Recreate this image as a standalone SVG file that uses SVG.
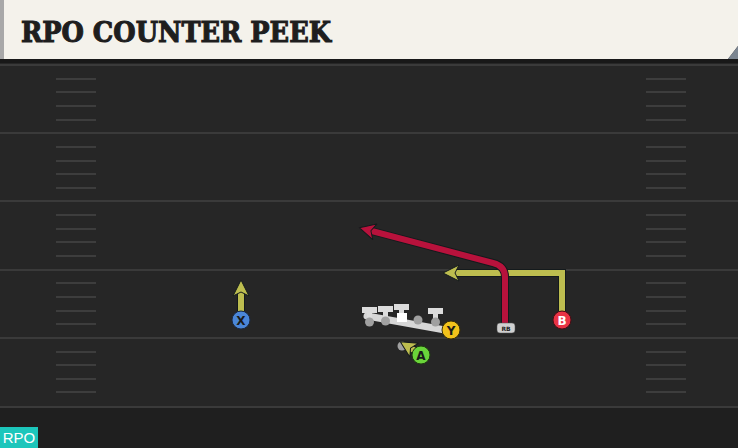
<svg xmlns="http://www.w3.org/2000/svg" width="738" height="448" viewBox="0 0 738 448">
<style>
.yl{stroke:#3a3a3a;stroke-width:2}
.hm{stroke:#3d3d3d;stroke-width:2}
.rt{fill:none;stroke-width:6;stroke-linejoin:miter;stroke-linecap:butt}
.rto{fill:none;stroke:#141a1c;stroke-width:8;stroke-linejoin:miter;stroke-linecap:butt}
.lbl{font-family:"DejaVu Sans",sans-serif;font-weight:bold;font-size:12px;text-anchor:middle}
.ol{fill:#dcdcdc}
.dot{fill:#a0a0a0}
</style>
<defs>
<marker id="ay" viewBox="0 0 20 20" refX="8" refY="10" markerWidth="20" markerHeight="20" orient="auto" markerUnits="userSpaceOnUse">
<path d="M1,2 L17,10 L1,18 L5,10 Z" fill="#bdbd4f" stroke="#141a1c" stroke-width="1" stroke-linejoin="round"/>
</marker>
<marker id="ar" viewBox="0 0 20 20" refX="8" refY="10" markerWidth="20" markerHeight="20" orient="auto" markerUnits="userSpaceOnUse">
<path d="M1,2 L17,10 L1,18 L5,10 Z" fill="#b8123c" stroke="#141a1c" stroke-width="1" stroke-linejoin="round"/>
</marker>
</defs>
<rect x="0" y="0" width="738" height="448" fill="#262626"/>
<rect x="0" y="408" width="738" height="40" fill="#1f1f1f"/>
<g id="field">
<line class="yl" x1="0" y1="65" x2="738" y2="65"/>
<line class="yl" x1="0" y1="133" x2="738" y2="133"/>
<line class="yl" x1="0" y1="201" x2="738" y2="201"/>
<line class="yl" x1="0" y1="270" x2="738" y2="270"/>
<line class="yl" x1="0" y1="338" x2="738" y2="338"/>
<line class="yl" x1="0" y1="407" x2="738" y2="407"/>
<g id="hashL">
<path class="hm" d="M56 79H96M56 92H96M56 106H96M56 120H96M56 147H96M56 161H96M56 174H96M56 188H96M56 215H96M56 229H96M56 242H96M56 256H96M56 283H96M56 297H96M56 311H96M56 324H96M56 352H96M56 365H96M56 379H96M56 392H96"/>
</g>
<g id="hashR">
<path class="hm" d="M646 79H686M646 92H686M646 106H686M646 120H686M646 147H686M646 161H686M646 174H686M646 188H686M646 215H686M646 229H686M646 242H686M646 256H686M646 283H686M646 297H686M646 311H686M646 324H686M646 352H686M646 365H686M646 379H686M646 392H686"/>
</g>
</g>
<g id="title">
<rect x="0" y="59" width="738" height="4" fill="#181818"/>
<path d="M0 0H738V46L728 59H0Z" fill="#f4f2eb"/>
<path d="M738 46L728 59H738Z" fill="#7b8590"/>
<rect x="0" y="0" width="4" height="59" fill="#a8a8a8"/>
<text x="21" y="42" font-family="'DejaVu Serif',serif" font-weight="bold" font-size="28" fill="#1e1e1e" stroke="#1e1e1e" stroke-width="1.1" textLength="310" lengthAdjust="spacingAndGlyphs">RPO COUNTER PEEK</text>
</g>
<g id="A0"><circle class="dot" cx="402" cy="346" r="4.5"/></g>
<g id="connectors">
<path class="rto" d="M241 311V289"/>
<path class="rt" d="M241 311V289" stroke="#bdbd4f" marker-end="url(#ay)"/>
<path class="rto" d="M562 311V273H452"/>
<path class="rt" d="M562 311V273H452" stroke="#bdbd4f" marker-end="url(#ay)"/>
<path class="rto" d="M417 352L408 346.5"/>
<path class="rt" d="M417 352L408 346.5" stroke="#bdbd4f" marker-end="url(#ay)"/>
<path class="rto" d="M505 324V277Q505 266 493 263L368 230"/>
<path class="rt" d="M505 324V277Q505 266 493 263L368 230" stroke="#b8123c" marker-end="url(#ar)"/>
</g>
<g id="line">
<path d="M367 316L445 330" stroke="#d6d6d6" stroke-width="7" stroke-linecap="round"/>
<g id="ol1"><rect class="ol" x="362" y="307" width="15" height="6"/><rect class="ol" x="367" y="307" width="5" height="13"/><circle class="dot" cx="369.5" cy="322" r="4.5"/></g>
<g id="ol2"><rect class="ol" x="378" y="306" width="15" height="6"/><rect class="ol" x="383" y="306" width="5" height="13"/><circle class="dot" cx="385.5" cy="321" r="4.5"/></g>
<g id="c"><rect class="ol" x="394" y="304" width="15" height="6"/><rect class="ol" x="399" y="304" width="5" height="10"/><rect x="397" y="313" width="10" height="9" fill="#ffffff"/></g>
<g id="ol4"><circle class="dot" cx="418" cy="320" r="4.5"/></g>
<g id="ol5"><rect class="ol" x="428" y="308" width="15" height="6"/><rect class="ol" x="433" y="308" width="5" height="13"/><circle class="dot" cx="435.5" cy="322" r="4.5"/></g>
</g>
<g id="X"><circle cx="241" cy="320" r="9" fill="#4a86d8" stroke="#1b2a44" stroke-width="1"/><text class="lbl" x="241" y="324.5" fill="#1a1a1a">X</text></g>
<g id="Y"><circle cx="451" cy="330" r="9" fill="#f2c21b" stroke="#3a2f05" stroke-width="1"/><text class="lbl" x="451" y="334.5" fill="#1a1a1a">Y</text></g>
<g id="A"><circle cx="421" cy="355" r="9" fill="#6ad43a" stroke="#1f3d10" stroke-width="1"/><text class="lbl" x="421" y="359.5" fill="#1a1a1a">A</text></g>
<g id="B"><circle cx="562" cy="320" r="9" fill="#e83344" stroke="#4a0d14" stroke-width="1"/><text class="lbl" x="562" y="324.5" fill="#ffffff">B</text></g>
<g id="RB"><rect x="497" y="323" width="18" height="10" rx="3" fill="#d0d0d0" stroke="#555" stroke-width="0.5"/><text x="506" y="331" font-family="'DejaVu Sans',sans-serif" font-weight="bold" font-size="6" text-anchor="middle" fill="#222">RB</text></g>
<g id="tag"><rect x="0" y="427" width="38" height="21" fill="#1cc6bb"/><text x="19" y="443" font-family="'Liberation Sans',sans-serif" font-size="15" text-anchor="middle" fill="#ffffff">RPO</text></g>
</svg>
